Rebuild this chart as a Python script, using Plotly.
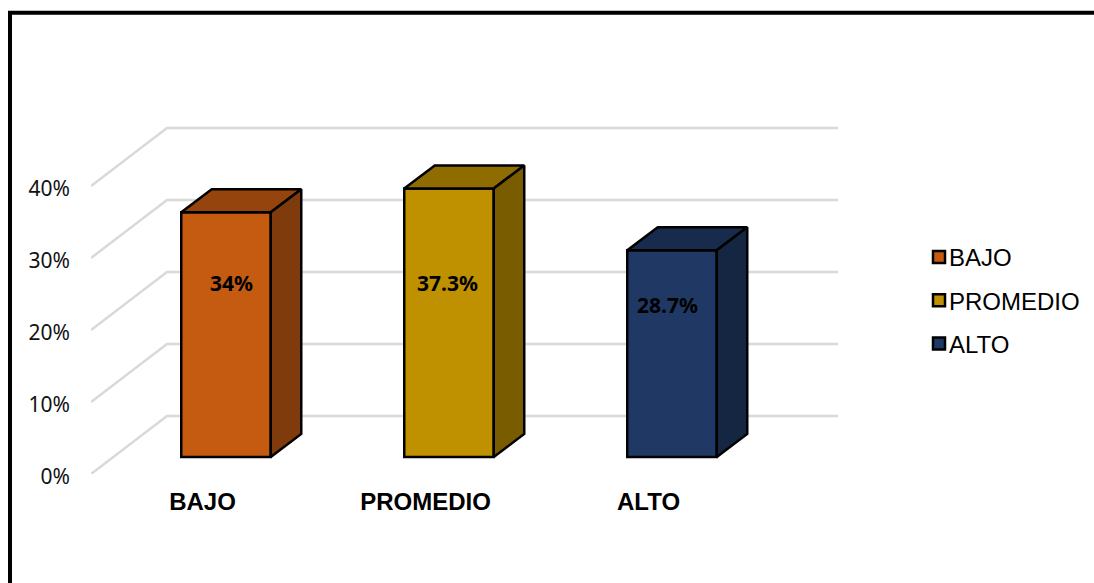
import plotly.graph_objects as go

# ---- data ----
categories = ["BAJO", "PROMEDIO", "ALTO"]
values = [34.0, 37.3, 28.7]
value_labels = ["34%", "37.3%", "28.7%"]
y_ticks = [0, 10, 20, 30, 40]
y_tick_labels = ["0%", "10%", "20%", "30%", "40%"]

# ---- style ----
front_colors = ["#C55A11", "#BF9000", "#1F3864"]
top_colors = ["#96440D", "#8F6C00", "#182B4C"]
side_colors = ["#7F3B0B", "#7A5C00", "#152642"]
W, H = 1094, 583
PX_X = 223.0       # pixels per category
PX_Y = 7.2         # pixels per percentage point
WALL_DX = 76 / PX_X
WALL_DY = 58 / PX_Y
BAR_SHIFT_X = 23.5 / PX_X
BAR_BASE = 17 / PX_Y
BAR_W = 89.5 / PX_X
BAR_DX = 30.5 / PX_X
BAR_DY = 23 / PX_Y
label_dx = [0.132, 0.0985, 0.084]
label_y = [26.5, 26.5, 23.5]
ARIAL = "Liberation Sans"
SANS = "Noto Sans"

fig = go.Figure()
shapes = []

# walls' gridlines, behind the bars
x_left = -0.5
x_right = x_left + 747 / PX_X
for t in y_ticks:
    shapes.append(dict(
        type="path", layer="below", xref="x", yref="y",
        path=f"M{x_left},{t} L{x_left + WALL_DX},{t + WALL_DY} L{x_right},{t + WALL_DY}",
        line=dict(color="#D9D9D9", width=2.5),
    ))

# frame
shapes.append(dict(type="rect", xref="paper", yref="paper",
                   x0=10 / W, x1=(W + 10) / W, y0=-10 / H, y1=1 - 12.7 / H,
                   line=dict(color="black", width=4)))

for i, (cat, v) in enumerate(zip(categories, values)):
    x0 = i + BAR_SHIFT_X - BAR_W / 2
    x1 = x0 + BAR_W
    bottom = BAR_BASE
    top = BAR_BASE + v
    fig.add_trace(go.Bar(
        x=[i + BAR_SHIFT_X], y=[v], base=[BAR_BASE], width=[BAR_W], name=cat,
        legendgroup=cat, marker=dict(color=front_colors[i], line=dict(color="black", width=2.5)),
        hovertemplate=f"{cat}: {value_labels[i]}<extra></extra>",
    ))
    fig.add_trace(go.Scatter(
        x=[x0, x0 + BAR_DX, x1 + BAR_DX, x1, x0], y=[top, top + BAR_DY, top + BAR_DY, top, top],
        mode="lines", fill="toself", fillcolor=top_colors[i], line=dict(color="black", width=2.5),
        legendgroup=cat, showlegend=False, hoverinfo="skip",
    ))
    fig.add_trace(go.Scatter(
        x=[x1, x1 + BAR_DX, x1 + BAR_DX, x1, x1],
        y=[top, top + BAR_DY, bottom + BAR_DY, bottom, top],
        mode="lines", fill="toself", fillcolor=side_colors[i], line=dict(color="black", width=2.5),
        legendgroup=cat, showlegend=False, hoverinfo="skip",
    ))

annotations = [
    dict(x=i + label_dx[i], y=label_y[i], xref="x", yref="y", text=f"<b>{value_labels[i]}</b>",
         showarrow=False, font=dict(family=SANS, size=21, color="black"))
    for i in range(len(categories))
]

fig.update_layout(
    width=W, height=H, autosize=False,
    margin=dict(l=0, r=0, t=0, b=0, autoexpand=False),
    paper_bgcolor="white", plot_bgcolor="white",
    barmode="overlay", shapes=shapes, annotations=annotations,
    showlegend=True,
    legend=dict(x=909 / W, y=1 - 235 / H, xanchor="left", yanchor="top",
                font=dict(family=ARIAL, size=24, color="black"),
                tracegroupgap=9, bgcolor="rgba(0,0,0,0)", itemclick=False, itemdoubleclick=False),
    xaxis=dict(domain=[91 / W, 838 / W], range=[x_left, x_right], tickmode="array",
               tickvals=list(range(len(categories))),
               ticktext=[f"<b>{c}</b>" for c in categories],
               tickfont=dict(family=ARIAL, size=24, color="black"),
               showgrid=False, zeroline=False, showline=False, ticks="", ticklabelstandoff=11),
    yaxis=dict(domain=[(H - 474) / H, (H - 120) / H], range=[0, 354 / PX_Y], tickmode="array",
               tickvals=y_ticks, ticktext=y_tick_labels,
               tickfont=dict(family=SANS, size=21, color="#111111"), ticklabelshift=3,
               showgrid=False, zeroline=False, showline=False, ticks="", ticklabelstandoff=20),
)

post = """
document.body.style.margin = '0';
var gd = document.querySelector('.plotly-graph-div');
function shiftSwatches() {
  gd.querySelectorAll('.legend .legendsymbols').forEach(function (s) {
    s.setAttribute('transform', 'translate(10,0)');
  });
}
shiftSwatches();
gd.on('plotly_afterplot', shiftSwatches);
"""
fig.write_html("out.html", post_script=post, config={"displayModeBar": False})
